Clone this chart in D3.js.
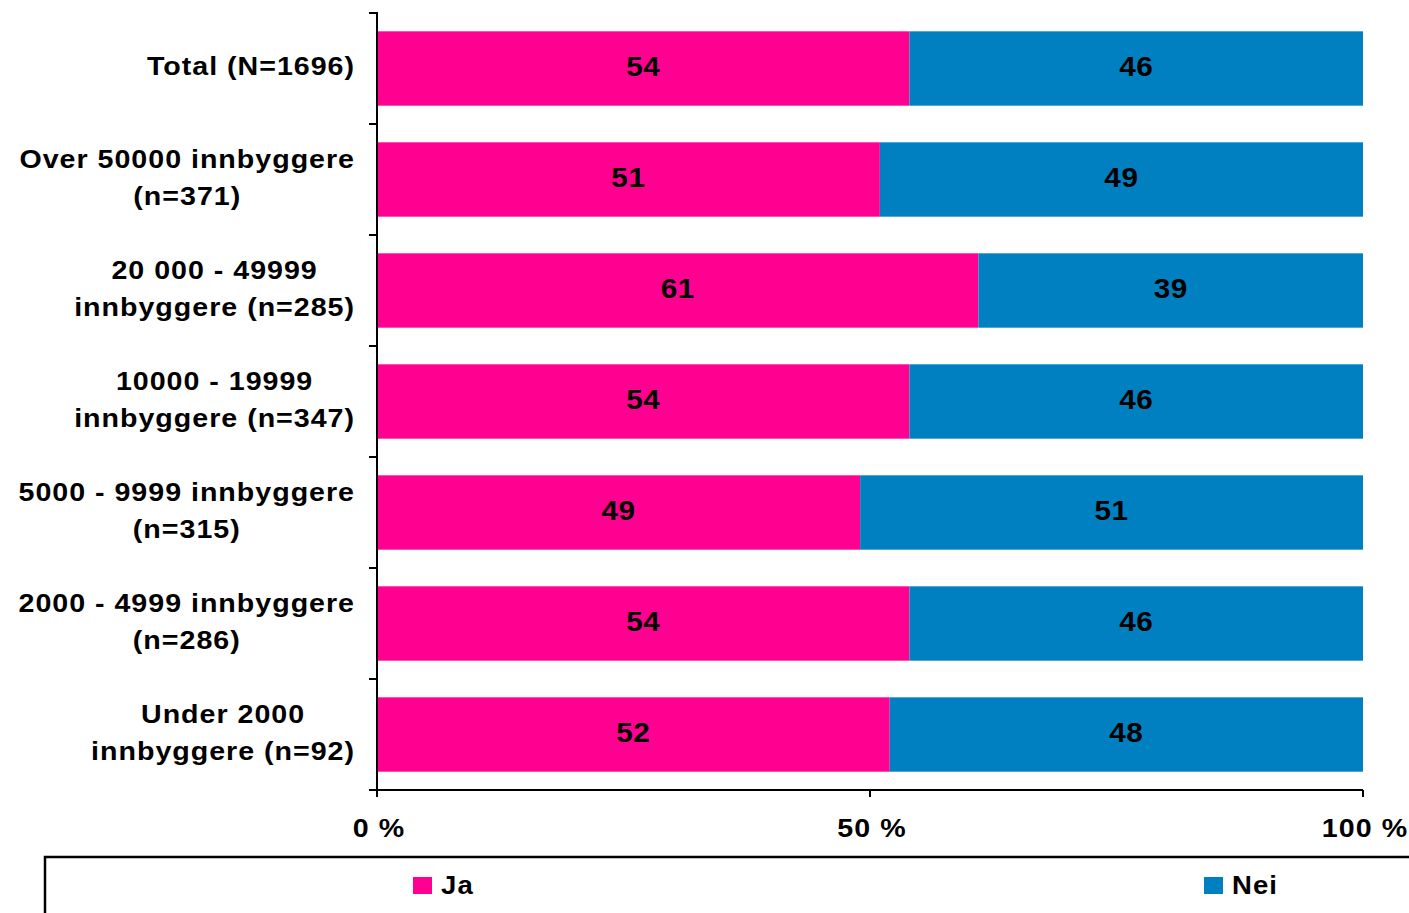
<!DOCTYPE html>
<html>
<head>
<meta charset="utf-8">
<script src="https://cdn.jsdelivr.net/npm/d3@7"></script>
<style>
  body { margin: 0; background: #fff; }
  text { font-family: "Liberation Sans", Arial, sans-serif; font-weight: bold; fill: #000; }
</style>
</head>
<body>
<script>
// data
var categories = [
  ["Total (N=1696)"],
  ["Over 50000 innbyggere", "(n=371)"],
  ["20 000 - 49999", "innbyggere (n=285)"],
  ["10000 - 19999", "innbyggere (n=347)"],
  ["5000 - 9999 innbyggere", "(n=315)"],
  ["2000 - 4999 innbyggere", "(n=286)"],
  ["Under 2000", "innbyggere (n=92)"]
];
var jaValues = [54, 51, 61, 54, 49, 54, 52];
var neiValues = [46, 49, 39, 46, 51, 46, 48];
var seriesNames = ["Ja", "Nei"];
var seriesColors = ["#ff0090", "#0080c0"];
var tickValues = [0, 50, 100];

var width = 1409, height = 913;
var plotLeft = 377, plotRight = 1363, plotTop = 13, plotBottom = 790;
var sx = 1.1; // the original font is a little wide

var svg = d3.select('body').append('svg')
  .attr('width', width)
  .attr('height', height);

// wide text helper
function wideText(parent, px, py, str, size, spacing, anchor) {
  return parent.append('text')
    .attr('transform', 'translate(' + px + ',' + py + ') scale(' + sx + ',1)')
    .attr('text-anchor', anchor || 'middle')
    .style('font-size', size + 'px')
    .style('letter-spacing', spacing + 'px')
    .text(str);
}

var x = d3.scaleLinear().domain([0, 100]).range([plotLeft, plotRight]);
var y = d3.scaleBand().domain(d3.range(categories.length))
  .range([plotTop, plotBottom])
  .paddingInner(0.33)
  .paddingOuter(0.165);

// bars
var segs = [];
categories.forEach(function(c, i) {
  segs.push({ s: 0, x0: 0, x1: jaValues[i], v: jaValues[i], i: i });
  segs.push({ s: 1, x0: jaValues[i], x1: jaValues[i] + neiValues[i], v: neiValues[i], i: i });
});

svg.selectAll('.bar').data(segs).enter().append('rect')
  .attr('x', function(d) { return x(d.x0); })
  .attr('y', function(d) { return y(d.i); })
  .attr('width', function(d) { return x(d.x1) - x(d.x0); })
  .attr('height', y.bandwidth())
  .attr('fill', function(d) { return seriesColors[d.s]; });

segs.forEach(function(d) {
  wideText(svg, (x(d.x0) + x(d.x1)) / 2, y(d.i) + y.bandwidth() / 2 + 7.5, d.v, 27, 0.5);
});

// y axis
var step = y.step();
svg.append('line')
  .attr('x1', plotLeft).attr('x2', plotLeft)
  .attr('y1', plotTop - 1).attr('y2', plotBottom + 7)
  .attr('stroke', '#000').attr('stroke-width', 2);
svg.selectAll('.ytick').data(d3.range(categories.length + 1)).enter().append('line')
  .attr('x1', plotLeft - 8).attr('x2', plotLeft)
  .attr('y1', function(i) { return plotTop + i * step; })
  .attr('y2', function(i) { return plotTop + i * step; })
  .attr('stroke', '#000').attr('stroke-width', 2);

// x axis
svg.append('line')
  .attr('x1', plotLeft - 8).attr('x2', plotRight)
  .attr('y1', plotBottom).attr('y2', plotBottom)
  .attr('stroke', '#000').attr('stroke-width', 2);
svg.selectAll('.xtick').data(tickValues).enter().append('line')
  .attr('x1', function(d) { return x(d); }).attr('x2', function(d) { return x(d); })
  .attr('y1', plotBottom).attr('y2', plotBottom + 7)
  .attr('stroke', '#000').attr('stroke-width', 2);
tickValues.forEach(function(d) {
  wideText(svg, x(d) + 2, 837, d + ' %', 26, 1);
});

// category labels: block right aligned, lines centred
var lineH = 37;
categories.forEach(function(lines, i) {
  var cy = y(i) + y.bandwidth() / 2;
  var ts = lines.map(function(l, j) {
    var t = wideText(svg, 0, 0, l, 26, 0.9);
    t.datum(cy - (lines.length - 1) * lineH / 2 + j * lineH + 6.5);
    return t;
  });
  var w = d3.max(ts, function(t) { return t.node().getBBox().width * sx; });
  ts.forEach(function(t) {
    t.attr('transform', 'translate(' + (355 - w / 2) + ',' + t.datum() + ') scale(' + sx + ',1)');
  });
});

// legend
svg.append('path')
  .attr('d', 'M45,' + (height + 5) + 'V857H' + (width + 5))
  .attr('fill', 'none').attr('stroke', '#000').attr('stroke-width', 2.5);
var legX = [413, 1204];
seriesNames.forEach(function(n, i) {
  svg.append('rect')
    .attr('x', legX[i]).attr('y', 877)
    .attr('width', 19).attr('height', 17)
    .attr('fill', seriesColors[i]);
  wideText(svg, legX[i] + 28, 894, n, 25, 1, 'start');
});
</script>
</body>
</html>
